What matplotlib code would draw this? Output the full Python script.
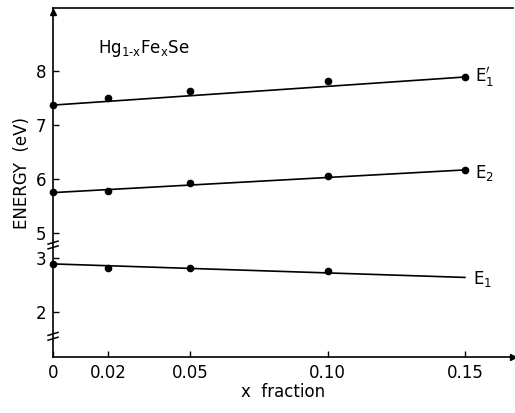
import matplotlib
matplotlib.use('Agg')
import matplotlib.pyplot as plt
import numpy as np

# measured points (x fraction, energy in eV)
x = [0, 0.02, 0.05, 0.10, 0.15]
e1p = [7.37, 7.50, 7.63, 7.81, 7.89]
e2 = [5.76, 5.78, 5.93, 6.06, 6.17]
x_e1 = [0, 0.02, 0.05, 0.10]
e1 = [2.89, 2.82, 2.82, 2.76]

# straight fit lines, end points
x_fit = [0, 0.15]
e1p_fit = [7.37, 7.89]
e2_fit = [5.75, 6.17]
e1_fit = [2.89, 2.64]

y_ticks = [2, 3, 5, 6, 7, 8]
x_ticks = [0, 0.02, 0.05, 0.10, 0.15]
x_ticklabels = ['0', '0.02', '0.05', '0.10', '0.15']

# broken energy axis: the range b1..b2 is cut out
b1 = 3.24
b2 = 4.78


def fwd(v):
    v = np.asarray(v, dtype=float)
    return np.where(v <= b1, v, np.where(v >= b2, v - (b2 - b1), b1))


def inv(u):
    u = np.asarray(u, dtype=float)
    return np.where(u <= b1, u, u + (b2 - b1))


def draw_break(ax, v, ylo, yhi):
    # two small slanted dashes across the y axis
    ya = (fwd(v) - fwd(ylo)) / (fwd(yhi) - fwd(ylo))
    w = 5 / 460
    h = 1.5 / 349
    for dy in (-2.4 / 349, 2.4 / 349):
        ax.plot([-w, w], [ya + dy - h, ya + dy + h], color='black', lw=1.1,
                transform=ax.transAxes, clip_on=False)


fig = plt.figure(figsize=(5.15, 4.13), dpi=100)
ax = fig.add_axes([0.103, 0.1356, 0.893, 0.845])
ax.set_yscale('function', functions=(fwd, inv))

ylo, yhi = 1.167, 9.167
ax.set_xlim(0, 0.1675)
ax.set_ylim(ylo, yhi)

kw = dict(color='black', lw=1.2)
ax.plot(x_fit, e1p_fit, **kw)
ax.plot(x_fit, e2_fit, **kw)
ax.plot(x_fit, e1_fit, **kw)
ax.plot(x, e1p, 'o', color='black', ms=4.5, clip_on=False)
ax.plot(x, e2, 'o', color='black', ms=4.5, clip_on=False)
ax.plot(x_e1, e1, 'o', color='black', ms=4.5, clip_on=False)

ax.annotate(r'E$_1^{\prime}$', (x_fit[-1], e1p_fit[-1]), xytext=(7, 0),
            textcoords='offset points', va='center', fontsize=12)
ax.annotate(r'E$_2$', (x_fit[-1], e2_fit[-1]), xytext=(7, -2),
            textcoords='offset points', va='center', fontsize=12)
ax.annotate(r'E$_1$', (x_fit[-1], e1_fit[-1]), xytext=(6, -1),
            textcoords='offset points', va='center', fontsize=12)

ax.text(0.097, 0.885, r'Hg$_{\mathrm{1\text{-}x}}$Fe$_{\mathrm{x}}$Se',
        transform=ax.transAxes, fontsize=12, va='center')

ax.set_yticks(y_ticks)
ax.set_yticklabels([str(t) for t in y_ticks])
ax.yaxis.set_minor_locator(matplotlib.ticker.NullLocator())
ax.set_xticks(x_ticks)
ax.set_xticklabels(x_ticklabels)
ax.tick_params(direction='in', length=4, width=1, labelsize=12, pad=5)

ax.set_xlabel('x  fraction', fontsize=12, labelpad=1)
ax.set_ylabel('ENERGY  (eV)', fontsize=12)
ax.yaxis.set_label_coords(-0.047, 0.527)

for s in ['left', 'bottom', 'top']:
    ax.spines[s].set_linewidth(1.2)
ax.spines['right'].set_visible(False)

draw_break(ax, 3.24, ylo, yhi)
draw_break(ax, 1.55, ylo, yhi)

# small arrow heads at the axis ends
ax.plot([0], [0.99], marker='^', color='black', ms=4, transform=ax.transAxes, clip_on=False)
ax.plot([1.0], [0], marker='>', color='black', ms=4, transform=ax.transAxes, clip_on=False)

fig.savefig('out.png', dpi=100)
